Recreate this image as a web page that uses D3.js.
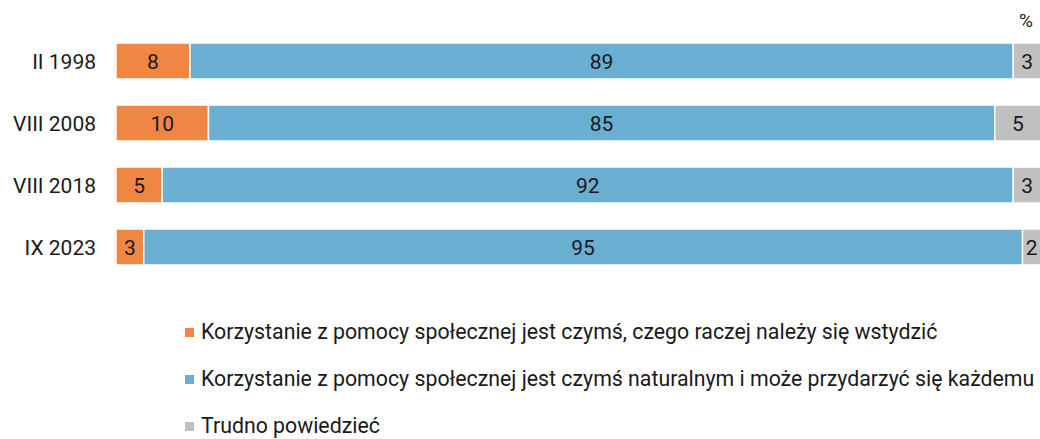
<!DOCTYPE html>
<html>
<head>
<meta charset="utf-8">
<script src="https://cdn.jsdelivr.net/npm/d3@7"></script>
<style>
  body { margin: 0; background: #fff; }
  svg { display: block; font-family: Roboto, "Noto Sans", sans-serif; font-weight: 400; }
</style>
</head>
<body>
<div id="chart"></div>
<script>
// data
var periods = ["II 1998", "VIII 2008", "VIII 2018", "IX 2023"];
var shame = [8, 10, 5, 3];
var natural = [89, 85, 92, 95];
var hard = [3, 5, 3, 2];
var seriesNames = [
  "Korzystanie z pomocy społecznej jest czymś, czego raczej należy się wstydzić",
  "Korzystanie z pomocy społecznej jest czymś naturalnym i może przydarzyć się każdemu",
  "Trudno powiedzieć"
];
var colors = ["#f08644", "#6aaed2", "#c0c0c0"];

var width = 1040, height = 439;

var svg = d3.select("#chart")
  .append("svg")
  .attr("width", width)
  .attr("height", height);

var rows = periods.map(function (p, i) {
  return { period: p, s0: shame[i], s1: natural[i], s2: hard[i] };
});

var stack = d3.stack().keys(["s0", "s1", "s2"]);
var layers = stack(rows);

var x = d3.scaleLinear().domain([0, 100]).range([116, 1041]);
var y = d3.scaleBand().domain(periods).range([30, 278]).paddingInner(0.42).paddingOuter(0.21);

// bars
var g = svg.selectAll(".layer")
  .data(layers)
  .enter().append("g")
  .attr("class", "layer")
  .attr("fill", function (d, i) { return colors[i]; });

g.selectAll("rect")
  .data(function (d) { return d; })
  .enter().append("rect")
  .attr("x", function (d) { return x(d[0]); })
  .attr("y", function (d) { return y(d.data.period); })
  .attr("width", function (d) { return x(d[1]) - x(d[0]); })
  .attr("height", y.bandwidth())
  .attr("stroke", "#fff")
  .attr("stroke-width", 1.5);

g.selectAll("text")
  .data(function (d) { return d; })
  .enter().append("text")
  .attr("x", function (d) { return (x(d[0]) + x(d[1])) / 2; })
  .attr("y", function (d) { return y(d.data.period) + y.bandwidth() / 2; })
  .attr("dy", "0.36em")
  .attr("text-anchor", "middle")
  .attr("font-size", 21)
  .attr("fill", "#1a1a1a")
  .text(function (d) { return d[1] - d[0]; });

// category labels
svg.append("g")
  .selectAll("text")
  .data(periods)
  .enter().append("text")
  .attr("x", 96)
  .attr("y", function (d) { return y(d) + y.bandwidth() / 2; })
  .attr("dy", "0.36em")
  .attr("text-anchor", "end")
  .attr("font-size", 21)
  .attr("fill", "#1a1a1a")
  .text(function (d) { return d; });

svg.append("text")
  .attr("x", 1026)
  .attr("y", 27)
  .attr("text-anchor", "middle")
  .attr("font-size", 19)
  .attr("fill", "#1a1a1a")
  .text("%");

// legend
var legend = svg.selectAll(".legend")
  .data(seriesNames)
  .enter().append("g")
  .attr("class", "legend")
  .attr("transform", function (d, i) { return "translate(185," + (332 + i * 47) + ")"; });

legend.append("rect")
  .attr("x", 0)
  .attr("y", -4)
  .attr("width", 9)
  .attr("height", 9)
  .attr("fill", function (d, i) { return colors[i]; });

legend.append("text")
  .attr("x", 16)
  .attr("y", 0)
  .attr("dy", "0.34em")
  .attr("font-size", 21.3)
  .attr("fill", "#1a1a1a")
  .text(function (d) { return d; });
</script>
</body>
</html>
